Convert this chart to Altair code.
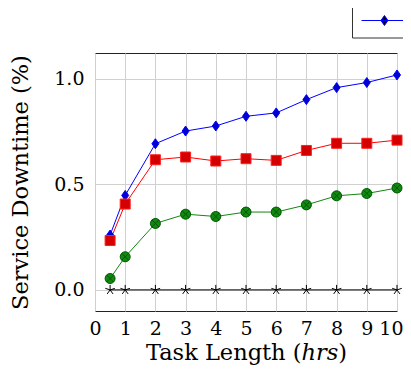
import altair as alt
import pandas as pd

task_hours = [0.5, 1, 2, 3, 4, 5, 6, 7, 8, 9, 10]
series_names = ["Scheme A", "Scheme B", "Scheme C", "Scheme D"]
blue_vals = [0.26, 0.448, 0.693, 0.753, 0.777, 0.823, 0.839, 0.902, 0.959, 0.983, 1.019]
red_vals = [0.234, 0.407, 0.617, 0.630, 0.611, 0.622, 0.614, 0.661, 0.695, 0.695, 0.710]
green_vals = [0.054, 0.157, 0.315, 0.359, 0.348, 0.369, 0.369, 0.403, 0.446, 0.457, 0.483]
black_vals = [0, 0, 0, 0, 0, 0, 0, 0, 0, 0, 0]
x_ticks = [0, 1, 2, 3, 4, 5, 6, 7, 8, 9, 10]
y_ticks = [0.0, 0.5, 1.0]

rows = []
for name, vals in zip(series_names, [blue_vals, red_vals, green_vals, black_vals]):
    for xv, yv in zip(task_hours, vals):
        rows.append({"series": name, "x": xv, "y": yv})
df = pd.DataFrame(rows)

diamond = "M0,-1L0.7,0L0,1L-0.7,0Z"
otimes = ("M1,0A1,1 0 1,1 -1,0A1,1 0 1,1 1,0Z"
          "M-0.707,-0.707L0.707,0.707M-0.707,0.707L0.707,-0.707")
star = ("M0,0L0,-1M0,0L0.951,-0.309M0,0L0.588,0.809"
        "M0,0L-0.588,0.809M0,0L-0.951,-0.309")
legend_sym = "M-1,0H2.4M0.7,-0.37L0.96,0L0.7,0.37L0.44,0Z"

line_colors = ["#0000ff", "#ff0000", "#118811", "#000000"]
fill_colors = ["#0000d0", "#d40000", "#118811", "transparent"]
stroke_colors = ["#0000ff", "#ff2020", "#005a00", "#000000"]

FONT = "DejaVu Serif"

x_enc = alt.X("x:Q", scale=alt.Scale(domain=[0, 10], nice=False),
              axis=alt.Axis(values=x_ticks, title="Task Length (ℎ𝑟𝑠)",
                            labelOverlap=False, labelFlush=True, labelFlushOffset=6,
                            labelPadding=8, titlePadding=3))
y_enc = alt.Y("y:Q", scale=alt.Scale(domain=[-0.1, 1.123], nice=False, zero=False),
              axis=alt.Axis(values=y_ticks, format=".1f", title="Service Downtime (%)",
                            labelOverlap=False, labelFlush=False,
                            labelPadding=11, titlePadding=21))

lines = alt.Chart(df).mark_line(strokeWidth=1).encode(
    x=x_enc, y=y_enc,
    stroke=alt.Stroke("series:N", sort=series_names,
                      scale=alt.Scale(domain=series_names, range=line_colors),
                      legend=None),
    detail="series:N",
)

leg = alt.Legend(title=None, orient="none", legendX=257, legendY=-55.5,
                 direction="horizontal", columns=4, symbolType=legend_sym,
                 symbolSize=729, symbolStrokeWidth=1, padding=9,
                 strokeColor="#333333", fillColor="white",
                 labelFont=FONT, labelFontSize=16, labelColor="black",
                 labelOffset=40, columnPadding=20)

points = alt.Chart(df).mark_point(filled=True, opacity=1, size=100, strokeWidth=1).encode(
    x=x_enc, y=y_enc,
    fill=alt.Fill("series:N", sort=series_names,
                  scale=alt.Scale(domain=series_names, range=fill_colors), legend=leg),
    stroke=alt.Stroke("series:N", sort=series_names,
                      scale=alt.Scale(domain=series_names, range=stroke_colors), legend=leg),
    shape=alt.Shape("series:N", sort=series_names,
                    scale=alt.Scale(domain=series_names, range=[diamond, "square", otimes, star]),
                    legend=None),
)

chart = alt.layer(lines, points).resolve_scale(stroke="independent").properties(
    width=302, height=258,
    autosize=alt.AutoSizeParams(type="none"),
    padding={"left": 87, "top": 45, "right": 6, "bottom": 70},
).configure_view(stroke="#222222", strokeWidth=1).configure_axis(
    grid=True, gridColor="#d0d0d0", gridWidth=1, domain=False, ticks=False,
    labelFont=FONT, labelFontSize=19, labelColor="black",
    titleFont=FONT, titleFontSize=22.5, titleFontWeight="normal", titleColor="black",
)

chart.save("out.html", embed_options={"renderer": "svg", "actions": False})
